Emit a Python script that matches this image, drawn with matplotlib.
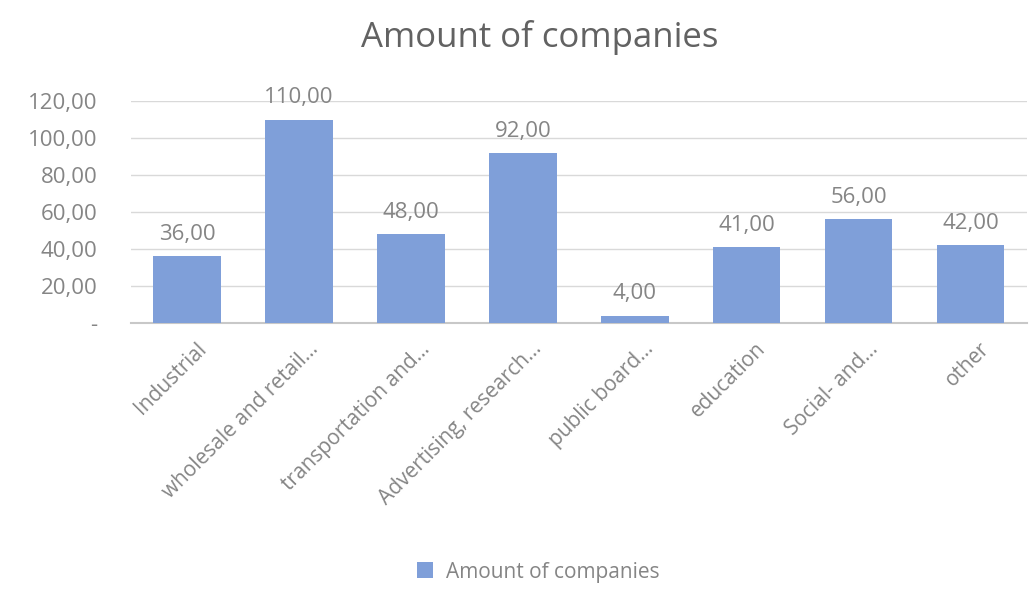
import matplotlib
matplotlib.use("Agg")
import matplotlib.pyplot as plt
import matplotlib.transforms as mtransforms
from matplotlib.ticker import FuncFormatter

categories = ["Industrial", "wholesale and retail…", "transportation and…",
              "Advertising, research…", "public board…", "education",
              "Social- and…", "other"]
counts = [36, 110, 48, 92, 4, 41, 56, 42]
y_ticks = [0, 20, 40, 60, 80, 100, 120]

plt.rcParams['font.family'] = ['Open Sans', 'DejaVu Sans']
bar_color = '#7f9fd9'
text_color = '#858585'


def comma_fmt(v, pos=None):
    if v == 0:
        return "-"
    return f"{v:.2f}".replace(".", ",")


fig = plt.figure(figsize=(10.31, 5.91), dpi=100)
ax = fig.add_axes([0.127, 0.4535, 0.869, 0.3756])

x = range(len(categories))
bars = ax.bar(x, counts, width=0.6, color=bar_color, zorder=3)

for xi, val in zip(x, counts):
    ax.annotate(comma_fmt(val), (xi, val), xytext=(0, 8), textcoords='offset points',
                ha='center', va='bottom', fontsize=16, color=text_color)

ax.set_xlim(-0.5, len(categories) - 0.5)
ax.set_ylim(0, 120)
ax.set_yticks(y_ticks)
ax.yaxis.set_major_formatter(FuncFormatter(comma_fmt))
ax.tick_params(axis='y', length=0, labelsize=16, labelcolor=text_color, pad=24)
ax.tick_params(axis='x', length=0, labelsize=15, labelcolor=text_color, pad=0)
ax.set_xticks(list(x))
ax.set_xticklabels(categories, rotation=45, ha='right', va='center', rotation_mode='anchor')

# push the slanted labels a bit right and down from the tick
shift = mtransforms.ScaledTranslation(16 / 100, -23 / 100, fig.dpi_scale_trans)
for lbl in ax.get_xticklabels():
    lbl.set_transform(lbl.get_transform() + shift)

ax.grid(axis='y', color='#d9d9d9', linewidth=1, zorder=0)
for side in ['top', 'right', 'left']:
    ax.spines[side].set_visible(False)
ax.spines['bottom'].set_color('#c8c8c8')
ax.spines['bottom'].set_linewidth(1.5)

fig.text(0.523, 0.936, "Amount of companies", ha='center', va='center',
         fontsize=25, color='#626262')

leg = fig.legend([bars], ["Amount of companies"], loc='center', bbox_to_anchor=(0.522, 0.032),
                 frameon=False, fontsize=15, handlelength=0.8, handleheight=0.8,
                 handletextpad=0.6)
for t in leg.get_texts():
    t.set_color(text_color)

fig.savefig("out.png", dpi=100)
